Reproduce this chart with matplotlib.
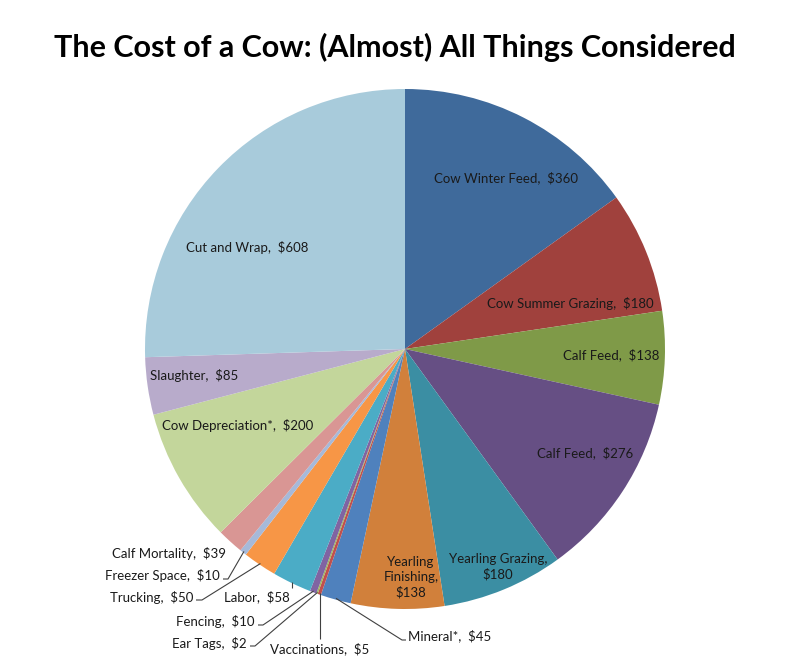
import matplotlib.pyplot as plt
import numpy as np

plt.rcParams['font.family'] = ['Lato', 'DejaVu Sans']

# slices, clockwise from 12 o'clock
names = ["Cow Winter Feed", "Cow Summer Grazing", "Calf Feed", "Calf Feed",
         "Yearling Grazing", "Yearling Finishing", "Mineral*", "Vaccinations",
         "Ear Tags", "Fencing", "Labor", "Trucking", "Freezer Space",
         "Calf Mortality", "Cow Depreciation*", "Slaughter", "Cut and Wrap"]
costs = [360, 180, 138, 276, 180, 138, 45, 5, 2, 10, 58, 50, 10, 39, 200, 85, 608]
colors = ['#3F6A9B', '#A0413D', '#7F9A48', '#664F84', '#3B8EA3', '#D1803B',
          '#4F81BD', '#C0504D', '#9BBB59', '#8064A2', '#4BACC6', '#F79646',
          '#A6B9D9', '#D99694', '#C3D69B', '#B8ABCB', '#A8CBDB']

W, H = 800, 661
cx, cy, R = 405, 349, 260   # pixel position of the pie


def py(y):
    return H - y


fig = plt.figure(figsize=(8, 6.61), dpi=100)
ax = fig.add_axes([0, 0, 1, 1])
wedges, _ = ax.pie(costs, colors=colors, startangle=90, counterclock=False,
                   center=(cx, py(cy)), radius=R,
                   wedgeprops=dict(linewidth=0))
ax.set_xlim(0, W)
ax.set_ylim(0, H)
ax.set_aspect('auto')
ax.axis('off')

texts = [f"{n},  ${c}" for n, c in zip(names, costs)]
texts[4] = "Yearling Grazing,\n$180"
texts[5] = "Yearling\nFinishing,\n$138"

# label layout: (x, y) in pixels
inside = {0: (506, 178), 1: (570, 303), 2: (611, 355), 3: (585, 453),
          4: (498, 567), 5: (411, 577), 13: (169, 554),
          14: (238, 426), 15: (194, 375), 16: (247, 248)}
for i, (x, y) in inside.items():
    ax.text(x, py(y), texts[i], ha='center', va='center', fontsize=9.5,
            color='#1a1a1a', linespacing=1.3, parse_math=False)

# outside labels with leader lines: text anchor, elbow x, elbow y
outside = {
    6: (408, 636, 'left', 402, 640),
    7: (320, 649, 'center', None, 639),
    9: (255, 622, 'right', 263, 625),
    8: (247, 643, 'right', 255, 646),
    10: (257, 597, 'center', None, 588),
    11: (193, 597, 'right', 202, 600),
    12: (220, 576, 'right', 228, 579),
}
for i, (x, y, ha, ex, ey) in outside.items():
    ax.text(x, py(y), texts[i], ha=ha, va='center', fontsize=9.5,
            color='#1a1a1a', parse_math=False)
    w = wedges[i]
    mid = np.deg2rad((w.theta1 + w.theta2) / 2)
    px0 = w.center[0] + 0.995 * w.r * np.cos(mid)
    py0 = w.center[1] + 0.995 * w.r * np.sin(mid)
    if ex is None:
        xs, ys = [px0, px0], [py0, py(ey)]
    elif ha == 'left':
        xs, ys = [px0, ex, x - 2], [py0, py(ey), py(ey)]
    else:
        xs, ys = [x + 3, ex, px0], [py(ey), py(ey), py0]
    ax.plot(xs, ys, color='#404040', lw=0.8, solid_capstyle='butt')

ax.text(395, py(47), "The Cost of a Cow: (Almost) All Things Considered",
        ha='center', va='center', fontsize=22, fontweight='bold', color='black')

fig.savefig('out.png', dpi=100)
